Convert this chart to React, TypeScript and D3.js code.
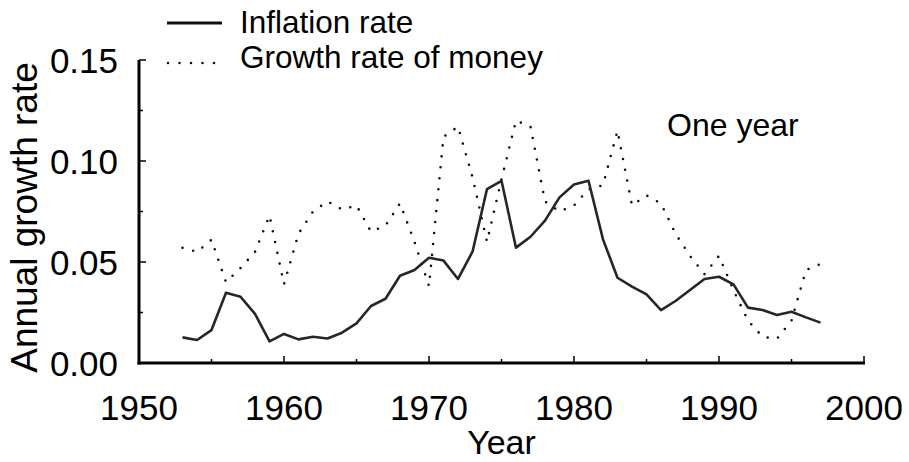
import React from 'react';
import * as d3 from 'd3';

// years of the two series
const years = [
  1953, 1954, 1955, 1956, 1957, 1958, 1959, 1960, 1961, 1962,
  1963, 1964, 1965, 1966, 1967, 1968, 1969, 1970, 1971, 1972,
  1973, 1974, 1975, 1976, 1977, 1978, 1979, 1980, 1981, 1982,
  1983, 1984, 1985, 1986, 1987, 1988, 1989, 1990, 1991, 1992,
  1993, 1994, 1995, 1996, 1997,
];

const inflation = [
  0.0127, 0.0114, 0.0163, 0.0348, 0.0328, 0.0243, 0.0107, 0.0144, 0.0117, 0.013,
  0.0121, 0.015, 0.0196, 0.0282, 0.0318, 0.0432, 0.046, 0.0521, 0.0507, 0.0416,
  0.0551, 0.0861, 0.0902, 0.0571, 0.0625, 0.0705, 0.082, 0.0884, 0.0902, 0.0612,
  0.0422, 0.0378, 0.034, 0.0262, 0.0307, 0.0361, 0.0416, 0.0427, 0.0389, 0.0274,
  0.0262, 0.0238, 0.0254, 0.0226, 0.02,
];

const moneyGrowth = [
  0.057, 0.055, 0.061, 0.04, 0.047, 0.055, 0.073, 0.039, 0.064, 0.075,
  0.08, 0.076, 0.078, 0.065, 0.068, 0.079, 0.06, 0.038, 0.112, 0.117,
  0.092, 0.06, 0.091, 0.12, 0.117, 0.08, 0.075, 0.078, 0.086, 0.088,
  0.115, 0.078, 0.083, 0.079, 0.064, 0.053, 0.044, 0.053, 0.036, 0.021,
  0.013, 0.012, 0.021, 0.046, 0.049,
];

const xTickLabels = ['1950', '1960', '1970', '1980', '1990', '2000'];
const yTickLabels = ['0.00', '0.05', '0.10', '0.15'];

const FONT = '"Liberation Sans", Arial, sans-serif';

const App = () => {
  const width = 909;
  const height = 462;

  const x = d3.scaleLinear().domain([1950, 2000]).range([139, 864]);
  const y = d3.scaleLinear().domain([0, 0.15]).range([363, 60]);

  const line = d3.line<number>()
    .x((d, i) => x(years[i]))
    .y(d => y(d));

  const majorX = x.ticks(5);          // decades
  const minorX = x.ticks(10).filter(t => t % 10 !== 0);
  const majorY = y.ticks(3);          // 0, .05, .1, .15
  const minorY = d3.range(0.025, 0.15, 0.05);

  return (
    <svg
      width={width}
      height={height}
      style={{ position: 'absolute', left: 0, top: 0, background: '#fff' }}
      fontFamily={FONT}
    >
      {/* legend */}
      <line x1={167} x2={222} y1={23} y2={23} stroke="#111" strokeWidth={3} />
      <text x={240} y={33} fontSize={31.5} fill="#000">Inflation rate</text>
      <line x1={168} x2={222} y1={63} y2={63} stroke="#111" strokeWidth={2.6}
        strokeDasharray="0 11.5" strokeLinecap="round" />
      <text x={240} y={68} fontSize={31.5} fill="#000">Growth rate of money</text>

      <text x={667} y={136} fontSize={32} fill="#000">One year</text>

      {/* series */}
      <path d={line(moneyGrowth) || ''} fill="none" stroke="#111" strokeWidth={2.6}
        strokeDasharray="0 11" strokeLinecap="round" strokeLinejoin="round" />
      <path d={line(inflation) || ''} fill="none" stroke="#262626" strokeWidth={2.6}
        strokeLinejoin="round" />

      {/* y axis */}
      <line x1={139} x2={139} y1={y(0.15)} y2={y(0) + 1.5} stroke="#000" strokeWidth={3} />
      {majorY.map(t => (
        <line key={'ym' + t} x1={139} x2={146} y1={y(t)} y2={y(t)} stroke="#000" strokeWidth={1.5} />
      ))}
      {minorY.map(t => (
        <line key={'yn' + t} x1={139} x2={143} y1={y(t)} y2={y(t)} stroke="#000" strokeWidth={1.5} />
      ))}
      {majorY.map((t, i) => (
        <text key={'yl' + t} x={118} y={y(t)} dy="0.36em" textAnchor="end" fontSize={35} fill="#000">
          {yTickLabels[i]}
        </text>
      ))}
      <text transform={`translate(37,${y(0.075) + 6}) rotate(-90)`} textAnchor="middle"
        fontSize={37} fill="#000">Annual growth rate</text>

      {/* x axis */}
      <line x1={137.5} x2={x(2000) + 1} y1={363} y2={363} stroke="#000" strokeWidth={3} />
      {majorX.map(t => (
        <line key={'xm' + t} x1={x(t)} x2={x(t)} y1={363} y2={356} stroke="#000" strokeWidth={1.5} />
      ))}
      {minorX.map(t => (
        <line key={'xn' + t} x1={x(t)} x2={x(t)} y1={363} y2={359} stroke="#000" strokeWidth={1.5} />
      ))}
      {majorX.map((t, i) => (
        <text key={'xl' + t} x={x(t)} y={420} textAnchor="middle" fontSize={35} fill="#000">
          {xTickLabels[i]}
        </text>
      ))}
      <text x={(x(1950) + x(2000)) / 2} y={454} textAnchor="middle" fontSize={34} fill="#000">Year</text>
    </svg>
  );
};

export default App;
